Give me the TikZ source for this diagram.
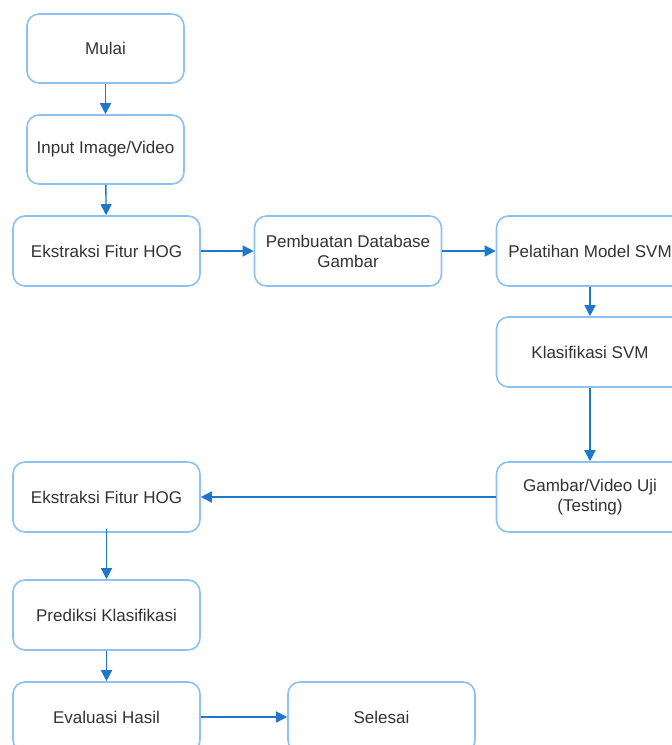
\documentclass[tikz,border=0pt]{standalone}
\usepackage{fontspec}
\setmainfont{Liberation Sans}
\usetikzlibrary{arrows.meta}

\definecolor{boxline}{HTML}{8DC1EF}
\definecolor{arrowblue}{HTML}{1F77C9}
\definecolor{txt}{HTML}{333333}

\begin{document}
\begin{tikzpicture}[x=1pt, y=-1pt,
  box/.style={draw=boxline, line width=1.6pt, rounded corners=12pt, fill=white,
    minimum width=187pt, minimum height=70pt, inner sep=0pt, align=center,
    text=txt, font=\fontsize{17}{20}\selectfont},
  smallbox/.style={box, minimum width=157pt, minimum height=69pt},
  flow/.style={draw=arrowblue, line width=1.4pt, -{Triangle[length=11pt, width=11pt]}}]
  \useasboundingbox (0,0) rectangle (672,745);
  \clip (0,0) rectangle (672,745);
  % tahap pelatihan
  \node[smallbox] (mulai) at (105.5,48.5) {Mulai};
  \node[smallbox] (input) at (105.5,149.5) {Input Image/Video};
  \node[box] (hog1) at (106.5,251) {Ekstraksi Fitur HOG};
  \node[box] (db) at (348,251) {Pembuatan Database\\Gambar};
  \node[box] (latih) at (590,251) {Pelatihan Model SVM};
  \node[box] (klas) at (590,352) {Klasifikasi SVM};
  % tahap pengujian
  \node[box] (uji) at (590,497) {Gambar/Video Uji\\(Testing)};
  \node[box] (hog2) at (106.5,497) {Ekstraksi Fitur HOG};
  \node[box] (pred) at (106.5,615) {Prediksi Klasifikasi};
  \node[box] (eval) at (106.5,717) {Evaluasi Hasil};
  \node[box] (selesai) at (381.5,717) {Selesai};

  \draw[flow] (mulai) -- (input);
  \draw[flow] (input) -- (hog1);
  \draw[flow] (hog1) -- (db);
  \draw[flow] (db) -- (latih);
  \draw[flow] (latih) -- (klas);
  \draw[flow] (klas) -- (uji);
  \draw[flow] (uji) -- (hog2);
  \draw[flow] ([yshift=4pt]hog2.south) -- (pred);
  \draw[flow] (pred) -- (eval);
  \draw[flow] (eval) -- (selesai);
\end{tikzpicture}
\end{document}
